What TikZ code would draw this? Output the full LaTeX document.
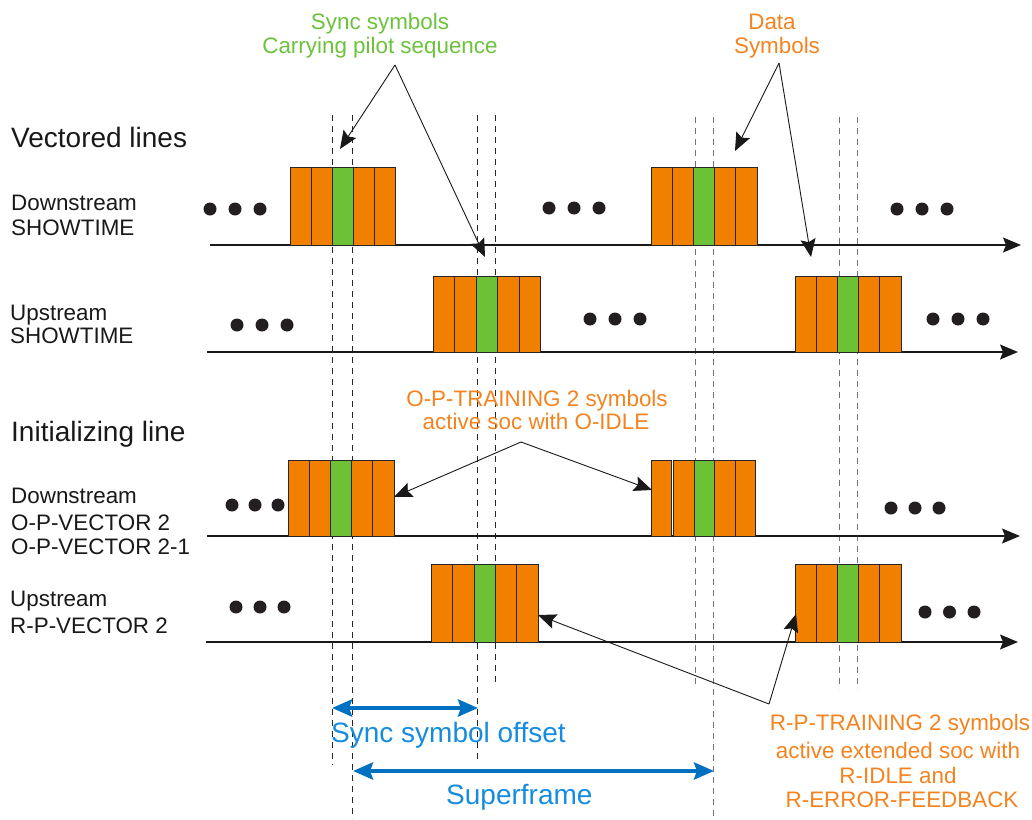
\documentclass[tikz,border=0pt]{standalone}
\usepackage{fontspec}
\setmainfont{Liberation Sans}
\usetikzlibrary{arrows.meta}
\definecolor{symorange}{RGB}{242,128,0}
\definecolor{symgreen}{RGB}{108,194,52}
\definecolor{txtorange}{RGB}{244,131,31}
\definecolor{txtgreen}{RGB}{108,194,60}
\definecolor{arrblue}{RGB}{0,112,192}
\definecolor{txtblue}{RGB}{22,140,222}
\definecolor{dotblack}{RGB}{35,31,32}
\newcommand\symblock[6]{% name, left, top, height, cell width, gap after first cell
  \foreach \i/\col in {0/symorange,1/symorange,2/symgreen,3/symorange,4/symorange}{
    \pgfmathsetmacro\xx{#2+#5*\i+(\i>0)*#6}
    \node[cellbox, fill=\col, minimum width=#5pt, minimum height=#4pt, anchor=north west] (#1c\i) at (\xx,#3) {};
  }
}
\newcommand\threedots[4]{% name, first x, y, spacing
  \foreach \k in {0,1,2}{
    \pgfmathsetmacro\dx{#2+#4*\k}
    \node[dotmark] (#1d\k) at (\dx,#3) {};
  }
}
\begin{document}
\begin{tikzpicture}[x=1pt,y=-1pt,
  cellbox/.style={draw=black!85, line width=0.9pt, inner sep=0pt},
  dotmark/.style={circle, fill=dotblack, inner sep=0pt, minimum size=13pt},
  timeaxis/.style={draw=black!90, line width=1.2pt, -{Stealth[length=18pt,width=15pt,inset=3pt]}},
  pointer/.style={draw=black!90, line width=0.9pt, -{Stealth[length=18pt,width=15pt,inset=3pt]}},
  guideblack/.style={draw=black!85, line width=0.9pt, dash pattern=on 6pt off 5pt},
  guidegray/.style={draw=black!55, line width=1pt, dash pattern=on 6pt off 5pt},
  spanarrow/.style={draw=arrblue, line width=4pt, {Stealth[length=20pt,width=17pt,inset=3pt]}-{Stealth[length=20pt,width=17pt,inset=3pt]}},
  headtxt/.style={inner sep=0pt, anchor=base west, font=\fontsize{28}{32}\selectfont, text=black!90},
  labtxt/.style={inner sep=0pt, anchor=base west, font=\fontsize{22.4}{25}\selectfont, text=black!90},
  greentxt/.style={inner sep=0pt, anchor=base, font=\fontsize{22.4}{25}\selectfont, text=txtgreen},
  orangetxt/.style={inner sep=0pt, anchor=base, font=\fontsize{22.4}{25}\selectfont, text=txtorange},
  bluetxt/.style={inner sep=0pt, anchor=base west, font=\fontsize{28}{32}\selectfont, text=txtblue},
]
\useasboundingbox (0,0) rectangle (1032,819);

% dashed guides
\coordinate (ga1t) at (332,115); \coordinate (ga1b) at (332,765);
\coordinate (ga2t) at (352,115); \coordinate (ga2b) at (352,819);
\coordinate (gb1t) at (477,115); \coordinate (gb1b) at (477,760);
\coordinate (gb2t) at (495,115); \coordinate (gb2b) at (495,683);
\coordinate (gc1t) at (695,117); \coordinate (gc1b) at (695,684);
\coordinate (gc2t) at (713,117); \coordinate (gc2b) at (713,817);
\coordinate (gd1t) at (839,117); \coordinate (gd1b) at (839,689);
\coordinate (gd2t) at (857,117); \coordinate (gd2b) at (857,689);
\draw[guideblack] (ga1t) -- (ga1b);
\draw[guideblack] (ga2t) -- (ga2b);
\draw[guideblack] (gb1t) -- (gb1b);
\draw[guideblack] (gb2t) -- (gb2b);
\draw[guidegray] (gc1t) -- (gc1b);
\draw[guidegray] (gc2t) -- (gc2b);
\draw[guidegray] (gd1t) -- (gd1b);
\draw[guidegray] (gd2t) -- (gd2b);

% time axes
\coordinate (ax1s) at (210,245); \coordinate (ax1e) at (1021,245);
\coordinate (ax2s) at (207,352); \coordinate (ax2e) at (1018,352);
\coordinate (ax3s) at (207,536); \coordinate (ax3e) at (1020,536);
\coordinate (ax4s) at (206,642); \coordinate (ax4e) at (1018,642);
\draw[timeaxis] (ax1s) -- (ax1e);
\draw[timeaxis] (ax2s) -- (ax2e);
\draw[timeaxis] (ax3s) -- (ax3e);
\draw[timeaxis] (ax4s) -- (ax4e);

% symbol blocks
\symblock{bA}{290}{167}{78}{21}{0}
\symblock{bB}{433}{276}{76}{21.4}{0}
\symblock{bC}{651}{167}{78}{21.1}{0}
\symblock{bD}{795}{276}{76}{21.1}{0}
\symblock{bE}{288}{460}{76}{21.1}{0}
\symblock{bF}{431}{564}{78}{21.3}{0}
\symblock{bG}{651}{460}{76}{20.4}{2}
\symblock{bH}{795}{564}{78}{21.1}{0}

% dots
\threedots{dA}{210}{209}{25}
\threedots{dB}{549}{208}{25}
\threedots{dC}{897}{209}{25}
\threedots{dD}{237}{325}{25}
\threedots{dE}{590}{319}{25}
\threedots{dF}{933}{319}{25}
\threedots{dG}{232}{505}{23}
\threedots{dH}{891}{508}{24}
\threedots{dI}{236}{607}{24}
\threedots{dJ}{925}{612}{24.5}

% left labels
\node[headtxt] (hvec) at (11,147) {Vectored lines};
\node[labtxt] (ds1a) at (11,210) {Downstream};
\node[labtxt] (ds1b) at (11,235) {SHOWTIME};
\node[labtxt] (us1a) at (10,320) {Upstream};
\node[labtxt] (us1b) at (10,343) {SHOWTIME};
\node[headtxt] (hini) at (11,441) {Initializing line};
\node[labtxt] (ds2a) at (11,503) {Downstream};
\node[labtxt] (ds2b) at (11,530) {O-P-VECTOR 2};
\node[labtxt] (ds2c) at (11,554) {O-P-VECTOR 2-1};
\node[labtxt] (us2a) at (10,606) {Upstream};
\node[labtxt] (us2b) at (10,633) {R-P-VECTOR 2};

% annotations
\node[greentxt] (sync1) at (380,29) {Sync symbols};
\node[greentxt] (sync2) at (380,53) {Carrying pilot sequence};
\node[orangetxt] (data1) at (772,29) {Data};
\node[orangetxt] (data2) at (777,53) {Symbols};
\node[orangetxt] (opt1) at (537,406) {O-P-TRAINING 2 symbols};
\node[orangetxt] (opt2) at (536,429) {active soc with O-IDLE};
\node[orangetxt] (rpt1) at (900,730) {R-P-TRAINING 2 symbols};
\node[orangetxt] (rpt2) at (898,758) {active extended soc with};
\node[orangetxt] (rpt3) at (898,783) {R-IDLE and};
\node[orangetxt] (rpt4) at (902,807) {R-ERROR-FEEDBACK};

% pointers
\coordinate (syncapex) at (395,65);
\coordinate (synctipA) at (340,149);
\coordinate (synctipB) at (485,257);
\draw[pointer] (syncapex) -- (synctipA);
\draw[pointer] (syncapex) -- (synctipB);
\coordinate (dataapex) at (779,63);
\coordinate (datatipA) at (735,151);
\coordinate (datatipB) at (811,257);
\draw[pointer] (dataapex) -- (datatipA);
\draw[pointer] (dataapex) -- (datatipB);
\coordinate (opapex) at (521,442);
\coordinate (optipA) at (394,497);
\coordinate (optipB) at (652,490);
\draw[pointer] (opapex) -- (optipA);
\draw[pointer] (opapex) -- (optipB);
\coordinate (rpapex) at (769,704);
\coordinate (rptipA) at (538,615);
\coordinate (rptipB) at (796,614);
\draw[pointer] (rpapex) -- (rptipA);
\draw[pointer] (rpapex) -- (rptipB);

% spans
\coordinate (soL) at (332,708); \coordinate (soR) at (478,708);
\coordinate (sfL) at (353,771); \coordinate (sfR) at (714,771);
\draw[spanarrow] (soL) -- (soR);
\draw[spanarrow] (sfL) -- (sfR);
\node[bluetxt] (sotxt) at (331,742) {Sync symbol offset};
\node[bluetxt] (sftxt) at (446,804) {Superframe};
\end{tikzpicture}
\end{document}
